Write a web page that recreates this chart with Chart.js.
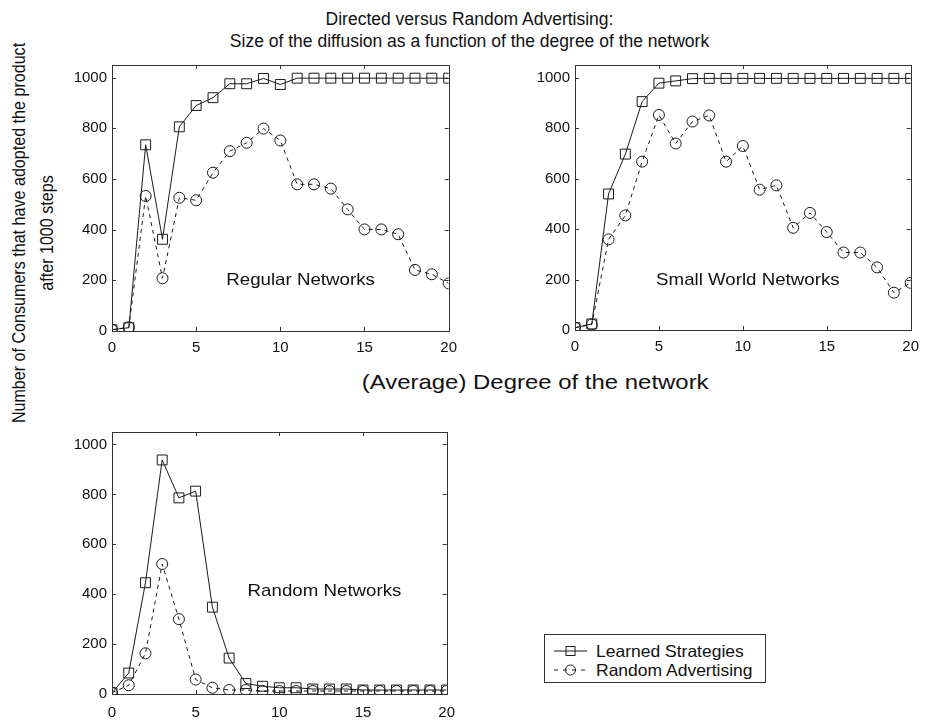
<!DOCTYPE html>
<html>
<head>
<meta charset="utf-8">
<script src="https://cdn.jsdelivr.net/npm/chart.js@4"></script>
<style>
  html, body { margin:0; padding:0; background:#fff; }
  body { width:927px; height:721px; position:relative; overflow:hidden; font-family:"Liberation Sans", Arial, Helvetica, sans-serif; color:#111; }
  canvas { position:absolute; }
  .txt { position:absolute; white-space:nowrap; color:#111; }
  #title { left:0; width:927px; top:8px; text-align:center; font-size:17.5px; line-height:22px; padding-left:12px; box-sizing:border-box; }
  #xlab { font-size:21px; }
  .ylab { font-size:18.5px; }
  #legend { position:absolute; left:544px; top:634px; width:222px; height:49px; border:1px solid #333; box-sizing:border-box; background:#fff; font-size:16.5px; }
  #legend .row { position:absolute; left:6px; height:18px; line-height:18px; }
  #legend svg { position:absolute; left:0; top:0; }
  #legend span { position:absolute; left:45px; top:0; white-space:nowrap; transform:scaleX(1.06); transform-origin:left center; }
</style>
</head>
<body>
<div id="title" class="txt">Directed versus Random Advertising:<br>Size of the diffusion as a function of the degree of the network</div>
<div id="xlab" class="txt">(Average) Degree of the network</div>
<div id="ylab1" class="txt ylab">Number of Consumers that have adopted the product</div>
<div id="ylab2" class="txt ylab">after 1000 steps</div>

<canvas id="c1" width="403" height="310" style="left:62px;top:51px;"></canvas>
<canvas id="c2" width="402" height="309" style="left:525px;top:51px;"></canvas>
<canvas id="c3" width="403" height="303" style="left:62px;top:418px;"></canvas>

<div id="legend">
  <div class="row" style="top:7px;">
    <svg width="40" height="18"><line x1="3" y1="9" x2="36" y2="9" stroke="#1a1a1a" stroke-width="1"/><rect x="15" y="4.5" width="9" height="9" fill="none" stroke="#1a1a1a" stroke-width="1"/></svg>
    <span>Learned Strategies</span>
  </div>
  <div class="row" style="top:26px;">
    <svg width="40" height="18"><line x1="3" y1="9" x2="36" y2="9" stroke="#1a1a1a" stroke-width="1" stroke-dasharray="4,5"/><circle cx="19.5" cy="9" r="5" fill="none" stroke="#1a1a1a" stroke-width="1"/></svg>
    <span>Random Advertising</span>
  </div>
</div>

<script>
// ---- data ----
const degrees = [0,1,2,3,4,5,6,7,8,9,10,11,12,13,14,15,16,17,18,19,20];
const seriesNames = ["Learned Strategies", "Random Advertising"];
const panelNames = ["Regular Networks", "Small World Networks", "Random Networks"];
const xTicks = [0,5,10,15,20];
const yTicks = [0,200,400,600,800,1000];

const regularLearned = [5,13,735,362,806,890,921,976,976,997,973,998,998,998,998,998,998,998,998,998,998];
const regularRandom  = [5,15,533,208,526,516,625,710,743,799,752,579,579,562,480,401,401,382,241,224,188];

const smallLearned = [9,24,539,697,905,978,987,996,997,997,997,997,997,997,997,997,997,997,997,997,997];
const smallRandom  = [9,22,359,454,667,852,739,826,850,667,729,556,573,405,464,388,307,307,248,148,187];

const randomLearned = [5,84,446,938,786,813,348,144,42,31,25,25,20,20,20,16,16,16,16,16,16];
const randomRandom  = [5,35,163,521,300,58,25,16,16,12,12,12,12,12,12,12,12,12,12,12,12];

// ---- helpers ----
const FONT = '"Liberation Sans", Arial, Helvetica, sans-serif';
const INK = '#1a1a1a';
const pts = arr => degrees.map((d,i) => ({x:d, y:arr[i]}));

const boxPlugin = {
  id:'box',
  afterDraw(chart, args, opts) {
    const {ctx, chartArea:a, scales} = chart;
    ctx.save();
    ctx.strokeStyle = '#333';
    ctx.lineWidth = 1;
    ctx.strokeRect(Math.round(a.left)+0.5, Math.round(a.top)+0.5, Math.round(a.right-a.left), Math.round(a.bottom-a.top));
    ctx.beginPath();
    scales.x.ticks.forEach(t => {
      const px = Math.round(scales.x.getPixelForValue(t.value))+0.5;
      ctx.moveTo(px, a.bottom); ctx.lineTo(px, a.bottom-4);
      ctx.moveTo(px, a.top); ctx.lineTo(px, a.top+4);
    });
    scales.y.ticks.forEach(t => {
      const py = Math.round(scales.y.getPixelForValue(t.value))+0.5;
      ctx.moveTo(a.left, py); ctx.lineTo(a.left+4, py);
      ctx.moveTo(a.right, py); ctx.lineTo(a.right-4, py);
    });
    ctx.stroke();
    if (opts.text) {
      ctx.fillStyle = '#111';
      ctx.font = '17px ' + FONT;
      ctx.textAlign = 'center';
      ctx.textBaseline = 'middle';
      ctx.translate(scales.x.getPixelForValue(opts.x), scales.y.getPixelForValue(opts.y));
      ctx.scale(1.1, 1);
      ctx.fillText(opts.text, 0, 0);
    }
    ctx.restore();
  }
};

function makeChart(id, learned, random, label, lx, ly, xh, xpad) {
  return new Chart(document.getElementById(id), {
    type:'line',
    data:{
      datasets:[
        { label:seriesNames[0], data:pts(learned), borderColor:INK, backgroundColor:'rgba(0,0,0,0)',
          borderWidth:1, pointStyle:'rect', pointRadius:7, pointBorderWidth:1, pointBorderColor:INK,
          pointBackgroundColor:'rgba(0,0,0,0)', tension:0 },
        { label:seriesNames[1], data:pts(random), borderColor:INK, backgroundColor:'rgba(0,0,0,0)',
          borderWidth:1, borderDash:[4,4], pointStyle:'circle', pointRadius:5.5, pointBorderWidth:1,
          pointBorderColor:INK, pointBackgroundColor:'rgba(0,0,0,0)', tension:0 }
      ]
    },
    options:{
      responsive:false, animation:false, devicePixelRatio:1,
      layout:{ padding:{ top:12, right:12, left:0, bottom:0 } },
      plugins:{ legend:{display:false}, tooltip:{enabled:false}, title:{display:false},
        box:{ text:label, x:lx, y:ly } },
      scales:{
        x:{ type:'linear', min:0, max:20,
          afterBuildTicks: s => { s.ticks = xTicks.map(v => ({value:v})); },
          afterFit: s => { s.height = xh; },
          grid:{ display:false, drawTicks:false }, border:{ display:false },
          ticks:{ color:'#111', font:{ family:FONT, size:15 }, padding:xpad, maxRotation:0, autoSkip:false,
            callback: v => String(v) } },
        y:{ type:'linear', min:0, max:1050,
          afterBuildTicks: s => { s.ticks = yTicks.map(v => ({value:v})); },
          afterFit: s => { s.width = 50; },
          grid:{ display:false, drawTicks:false }, border:{ display:false },
          ticks:{ color:'#111', font:{ family:FONT, size:15 }, padding:5, callback: v => String(v) } }
      }
    },
    plugins:[boxPlugin]
  });
}

makeChart('c1', regularLearned, regularRandom, panelNames[0], 11.2, 200, 30, 8);
makeChart('c2', smallLearned, smallRandom, panelNames[1], 10.3, 195, 30, 8);
makeChart('c3', randomLearned, randomRandom, panelNames[2], 12.7, 413, 27, 10);

function place(id, cx, cy, transform) {
  const el = document.getElementById(id);
  const w = el.offsetWidth, h = el.offsetHeight;
  el.style.left = (cx - w/2) + 'px';
  el.style.top = (cy - h/2) + 'px';
  el.style.transformOrigin = 'center center';
  el.style.transform = transform;
}
place('xlab', 535, 382, 'scaleX(1.14)');
place('ylab1', 18, 233, 'rotate(-90deg) scaleX(0.87)');
place('ylab2', 47, 233, 'rotate(-90deg) scaleX(0.87)');
</script>
</body>
</html>
